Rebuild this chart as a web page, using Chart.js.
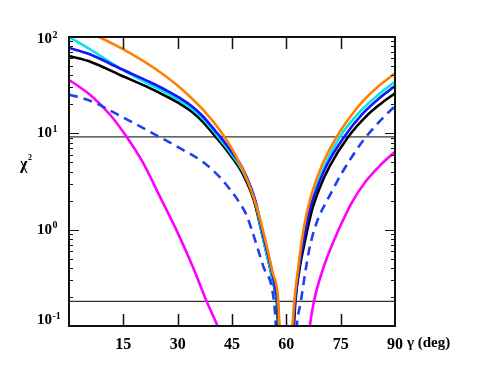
<!DOCTYPE html>
<html><head><meta charset="utf-8">
<script src="https://cdn.jsdelivr.net/npm/chart.js@4"></script>
<style>html,body{margin:0;padding:0;background:#fff;}</style>
</head><body>
<canvas id="c" width="477" height="376"></canvas>
<script>
// ---- data (gamma in deg, chi^2) ----
const xTicks = [15, 30, 45, 60, 75, 90];
const yTicks = [0.1, 1, 10, 100];
const refLevels = [9.2, 0.18];

const orangeGamma = [0, 8.3, 16, 24, 31, 37, 42, 46, 49.5, 52, 54.2, 56.2, 57.8, 58.1, 58.4, null,
                     61.3, 61.7, 62.2, 63.2, 64.3, 65.7, 67.5, 70, 73.9, 77.5, 81.2, 85.5, 90];
const orangeChi   = [137, 100, 71.0, 46.3, 29.1, 17.6, 10.3, 5.90, 3.08, 1.63, 0.78, 0.363, 0.179, 0.1, 0.064, null,
                     0.064, 0.1, 0.179, 0.381, 0.78, 1.525, 2.71, 4.80, 9.2, 14.6, 21.7, 31.0, 42.0];

const cyanGamma = [0, 5.9, 14.1, 22.3, 27, 31, 34, 37, 41.2, 44, 48, 51.3, 53.6, 55.6, 57.1, 57.6, 57.9, 58.2, null,
                   61.5, 61.8, 62.3, 63.3, 64.6, 66.2, 68.1, 70.7, 74.8, 80, 85, 90];
const cyanChi   = [100, 74.2, 47.1, 32.1, 26.2, 21.4, 17.9, 14.1, 9.2, 6.71, 4.02, 2.03, 0.80, 0.39, 0.215, 0.165, 0.1, 0.064, null,
                   0.064, 0.1, 0.179, 0.381, 0.78, 1.6, 2.71, 4.69, 9.2, 16.3, 24.4, 34.4];

const blueGamma = [0, 5.9, 14.1, 22.3, 27, 31, 34, 37, 40.5, 41.8, 44, 48, 51.4, 53.8, 55.8, 57.2, 57.7, 58.0, 58.3, null,
                   61.6, 61.9, 62.4, 63.4, 64.8, 66.5, 68.5, 71.2, 76.0, 81, 85.5, 90];
const blueChi   = [76.9, 65.8, 47.1, 34.1, 27.8, 22.8, 19.0, 14.95, 10.5, 9.2, 7.13, 4.26, 2.03, 0.819, 0.40, 0.22, 0.165, 0.1, 0.064, null,
                   0.064, 0.1, 0.179, 0.381, 0.78, 1.6, 2.71, 4.69, 9.2, 15.9, 22.9, 31.0];

const blackGamma = [0, 5.9, 14.1, 22.3, 27, 31, 34, 37, 40.5, 44, 48, 51.1, 53.3, 55.3, 56.8, 57.4, 57.7, 58.0, null,
                    61.8, 62.1, 62.5, 63.6, 65.2, 67.1, 69.2, 72, 77.1, 82.1, 86, 90];
const blackChi   = [63.5, 55.4, 40.3, 29.5, 24.1, 19.9, 16.65, 13.1, 9.2, 6.32, 3.78, 1.98, 0.90, 0.43, 0.236, 0.173, 0.1, 0.064, null,
                    0.064, 0.1, 0.179, 0.381, 0.78, 1.6, 2.71, 4.58, 9.2, 15.1, 20.2, 26.0];

const dashGamma = [0, 4, 7.7, 11, 15, 22.3, 32.4, 37, 41.5, 44.5, 47.3, 49, 50.6, 53.6, 56.6, 57.1, 57.3, null,
                   62.6, 62.9, 64.0, 65.1, 66.3, 67.6, 69.2, 71.1, 75.5, 80.3, 82.0, 86, 90];
const dashChi   = [25.2, 23.0, 20.4, 17.5, 14.6, 10.4, 6.44, 5.04, 3.55, 2.6, 1.85, 1.42, 0.957, 0.42, 0.179, 0.1, 0.064, null,
                   0.064, 0.1, 0.179, 0.338, 0.615, 0.968, 1.42, 1.96, 3.97, 7.56, 9.2, 13.6, 19.2];

const magentaGamma = [0, 2.9, 5.9, 11.4, 15.9, 20.5, 25.1, 29.6, 34.2, 38.1, 41, 42.5, null,
                      66.0, 66.5, 67.6, 70.5, 74.4, 78, 82, 86, 90];
const magentaChi   = [35.8, 30.3, 25, 15.5, 9.2, 4.9, 2.2, 1.0, 0.41, 0.176, 0.1, 0.07, null,
                      0.064, 0.1, 0.179, 0.43, 0.99, 1.89, 3.2, 4.69, 6.45];

const pts = (gx, gy) => gx.map((g, i) => ({ x: g, y: gy[i] }));
const curve = (gx, gy, color, dash) => ({
  data: pts(gx, gy), borderColor: color, borderWidth: 2.6, pointRadius: 0,
  borderDash: dash || [], cubicInterpolationMode: 'monotone', spanGaps: false, fill: false
});
const refLine = (v) => ({
  data: [{ x: 0, y: v }, { x: 90, y: v }], borderColor: '#333', borderWidth: 1.2,
  pointRadius: 0, fill: false
});

const SERIF = '"Liberation Serif", "Times New Roman", serif';

const framePlugin = {
  id: 'frame',
  afterDatasetsDraw(chart) {
    const { ctx, chartArea: a, scales: { x, y } } = chart;
    ctx.save();
    ctx.strokeStyle = '#111';
    ctx.lineWidth = 1.5;
    xTicks.forEach(v => {
      if (v >= 90) return;
      const px = Math.round(x.getPixelForValue(v)) + 0.5;
      ctx.beginPath();
      ctx.moveTo(px, a.bottom); ctx.lineTo(px, a.bottom - 12);
      ctx.moveTo(px, a.top); ctx.lineTo(px, a.top + 12);
      ctx.stroke();
    });
    ctx.lineWidth = 1;
    for (let e = -1; e <= 1; e++) {
      for (let m = 1; m <= 9; m++) {
        if (m === 1 && e === -1) continue;
        const v = m * Math.pow(10, e);
        const py = Math.round(y.getPixelForValue(v)) + 0.5;
        const len = m === 1 ? 10 : 4;
        ctx.beginPath();
        ctx.moveTo(a.left, py); ctx.lineTo(a.left + len, py);
        ctx.moveTo(a.right, py); ctx.lineTo(a.right - len, py);
        ctx.stroke();
      }
    }
    ctx.lineWidth = 2;
    ctx.strokeStyle = '#111';
    ctx.strokeRect(a.left, a.top, a.right - a.left, a.bottom - a.top);

    ctx.fillStyle = '#000';
    ctx.textBaseline = 'middle';
    ctx.textAlign = 'left';
    yTicks.forEach(v => {
      const ex = Math.round(Math.log10(v));
      let py = y.getPixelForValue(v);
      if (ex === 2) py += 2;
      if (ex === -1) py -= 6;
      ctx.font = 'bold 15px ' + SERIF;
      ctx.fillText('10', 37, py);
      const w = ctx.measureText('10').width;
      ctx.font = 'bold 10px ' + SERIF;
      ctx.fillText(ex < 0 ? '-' + Math.abs(ex) : String(ex), 37 + w + 0.5, py - 4);
    });
    ctx.font = 'bold 16px ' + SERIF;
    ctx.fillText('\u03C7', 20, 165);
    const cw = ctx.measureText('\u03C7').width;
    ctx.font = 'bold 8px ' + SERIF;
    ctx.fillText('2', 20 + cw + 0.5, 158);
    ctx.font = 'bold 15px ' + SERIF;
    ctx.fillText('\u03B3 (deg)', 407, 343);
    ctx.restore();
  }
};

new Chart(document.getElementById('c'), {
  type: 'line',
  data: {
    datasets: [
      curve(orangeGamma, orangeChi, '#ff8000'),
      curve(blueGamma, blueChi, '#1414ff'),
      curve(cyanGamma, cyanChi, '#00e4ec'),
      curve(blackGamma, blackChi, '#000000'),
      curve(dashGamma, dashChi, '#2040f0', [9, 6]),
      curve(magentaGamma, magentaChi, '#ff00ff'),
      refLine(refLevels[0]),
      refLine(refLevels[1])
    ]
  },
  options: {
    responsive: false,
    animation: false,
    devicePixelRatio: 1,
    layout: { padding: { top: 37, right: 82, left: 0, bottom: 0 } },
    plugins: { legend: { display: false }, tooltip: { enabled: false }, title: { display: false } },
    scales: {
      x: {
        type: 'linear', min: 0, max: 90,
        afterBuildTicks: s => { s.ticks = [0].concat(xTicks).map(v => ({ value: v })); },
        ticks: {
          callback: v => (v === 0 ? '' : String(v)),
          font: { family: SERIF, size: 16, weight: 'bold' },
          color: '#000', padding: 9, maxRotation: 0, autoSkip: false
        },
        grid: { display: false, drawTicks: false },
        border: { display: false },
        afterFit: s => { s.height = 50; }
      },
      y: {
        type: 'logarithmic', min: 0.1, max: 100,
        ticks: { display: false },
        grid: { display: false, drawTicks: false },
        border: { display: false },
        afterFit: s => { s.width = 69; }
      }
    }
  },
  plugins: [framePlugin]
});
</script>
</body></html>
